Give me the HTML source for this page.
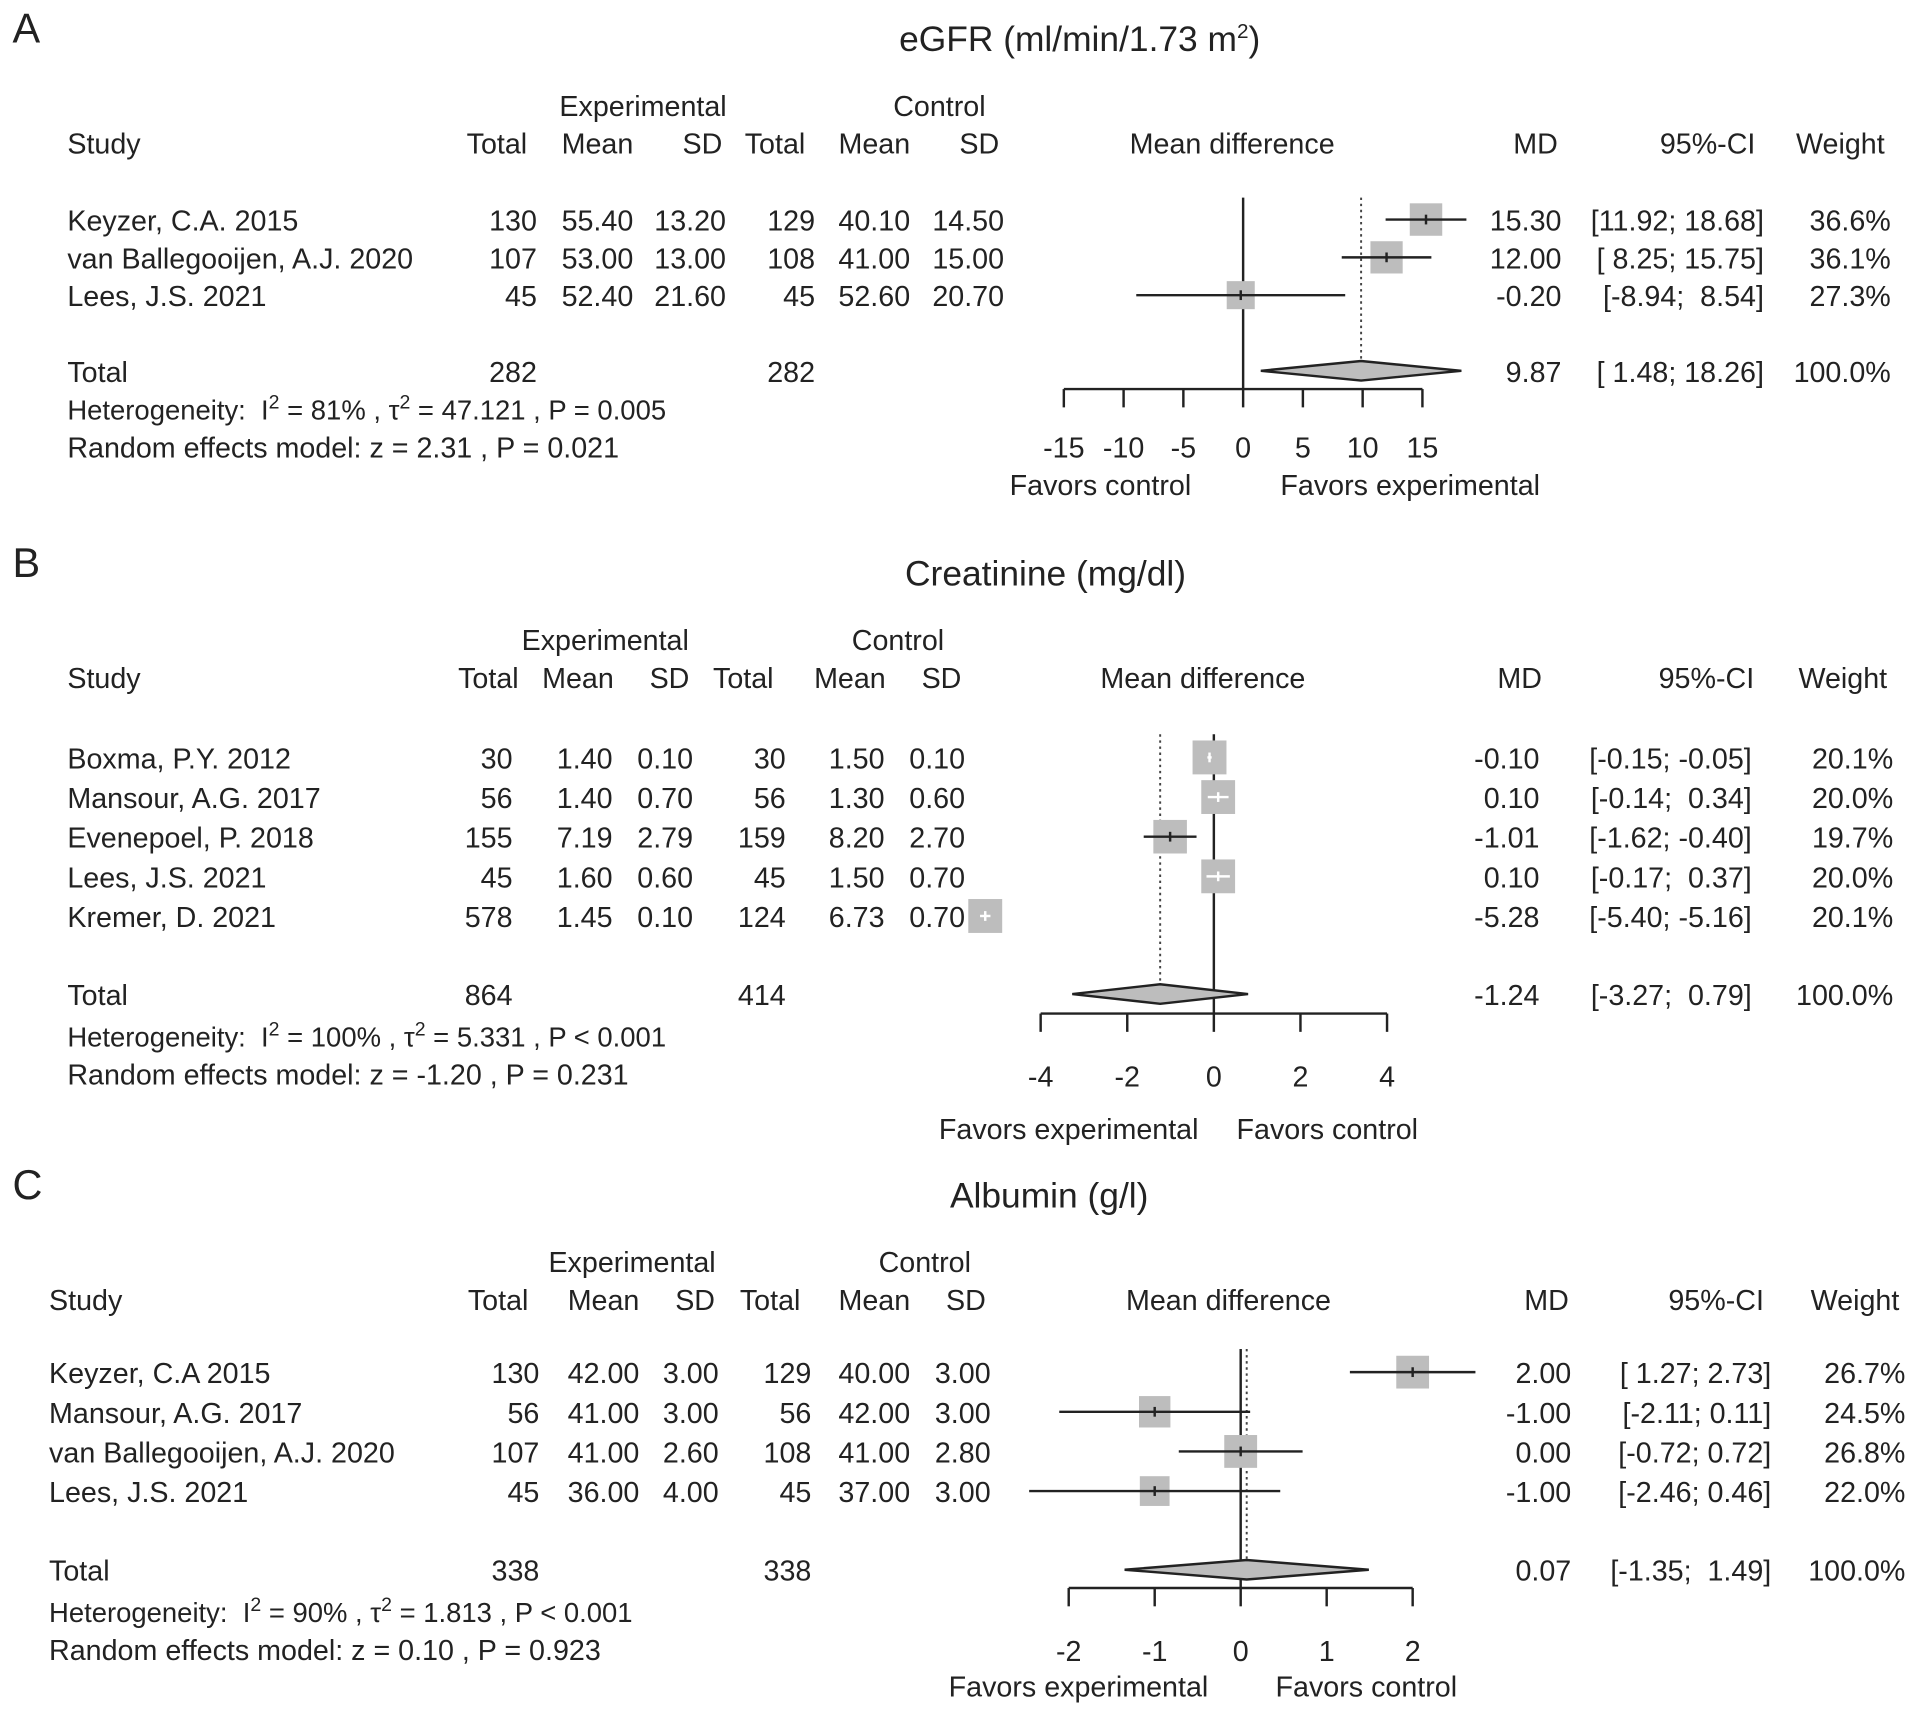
<!DOCTYPE html>
<html><head><meta charset="utf-8">
<style>
html,body{margin:0;padding:0;background:#fff;}
svg{display:block;}
text{font-family:"Liberation Sans",sans-serif;fill:#222;white-space:pre;}
</style></head>
<body>
<svg id="fig" width="1913" height="1710" viewBox="0 0 1568 1402" xmlns="http://www.w3.org/2000/svg"></svg>
<script>
// ---- Panel A data (eGFR) ----
const aStudies = ["Keyzer, C.A. 2015","van Ballegooijen, A.J. 2020","Lees, J.S. 2021"];
const aExpN = [130,107,45];
const aExpMean = ["55.40","53.00","52.40"];
const aExpSD = ["13.20","13.00","21.60"];
const aCtlN = [129,108,45];
const aCtlMean = ["40.10","41.00","52.60"];
const aCtlSD = ["14.50","15.00","20.70"];
const aMD = [15.30,12.00,-0.20];
const aLo = [11.92,8.25,-8.94];
const aHi = [18.68,15.75,8.54];
const aWeight = [36.6,36.1,27.3];
const aTotal = [9.87,1.48,18.26];
const aTicks = [-15,-10,-5,0,5,10,15];

// ---- Panel B data (Creatinine) ----
const bStudies = ["Boxma, P.Y. 2012","Mansour, A.G. 2017","Evenepoel, P. 2018","Lees, J.S. 2021","Kremer, D. 2021"];
const bExpN = [30,56,155,45,578];
const bExpMean = ["1.40","1.40","7.19","1.60","1.45"];
const bExpSD = ["0.10","0.70","2.79","0.60","0.10"];
const bCtlN = [30,56,159,45,124];
const bCtlMean = ["1.50","1.30","8.20","1.50","6.73"];
const bCtlSD = ["0.10","0.60","2.70","0.70","0.70"];
const bMD = [-0.10,0.10,-1.01,0.10,-5.28];
const bLo = [-0.15,-0.14,-1.62,-0.17,-5.40];
const bHi = [-0.05,0.34,-0.40,0.37,-5.16];
const bWeight = [20.1,20.0,19.7,20.0,20.1];
const bTotal = [-1.24,-3.27,0.79];
const bTicks = [-4,-2,0,2,4];

// ---- Panel C data (Albumin) ----
const cStudies = ["Keyzer, C.A 2015","Mansour, A.G. 2017","van Ballegooijen, A.J. 2020","Lees, J.S. 2021"];
const cExpN = [130,56,107,45];
const cExpMean = ["42.00","41.00","41.00","36.00"];
const cExpSD = ["3.00","3.00","2.60","4.00"];
const cCtlN = [129,56,108,45];
const cCtlMean = ["40.00","42.00","41.00","37.00"];
const cCtlSD = ["3.00","3.00","2.80","3.00"];
const cMD = [2.00,-1.00,0.00,-1.00];
const cLo = [1.27,-2.11,-0.72,-2.46];
const cHi = [2.73,0.11,0.72,0.46];
const cWeight = [26.7,24.5,26.8,22.0];
const cTotal = [0.07,-1.35,1.49];
const cTicks = [-2,-1,0,1,2];

const FS=23.5;
const NS="http://www.w3.org/2000/svg";
const svg=document.getElementById('fig');
function el(tag,attrs,parent){const e=document.createElementNS(NS,tag);for(const k in attrs)e.setAttribute(k,attrs[k]);(parent||svg).appendChild(e);return e;}
function txt(x,y,s,anchor,size,parent,name){const t=el('text',{x:x,y:y,'text-anchor':anchor||'start','font-size':size||FS},parent);t.textContent=s;


return t;}

function panel(o){
  const g=el('g',{});
  
  
  txt(10,o.top+35,o.letter,'start',34,g,'panel-letter');
  const title=txt(o.titleX,o.top+42,o.title,'middle',29,g,'panel-title');
  if(o.sup){const ts=el('tspan',{'font-size':17,dy:-11},title);ts.textContent='2';const t2=el('tspan',{dy:11},title);t2.textContent=')';}
  const c=o.cols;
  txt(o.expX,o.top+95,'Experimental','middle',FS,g,'experimental-header');
  txt(o.ctlX,o.top+95,'Control','middle',FS,g,'control-header');
  const hy=o.top+126;
  txt(o.studyX,hy,'Study','start',FS,g,'study-header');
  const hdr=['Total','Mean','SD','Total','Mean','SD'];
  for(let i=0;i<6;i++) txt(o.hcols[i],hy,hdr[i],'end',FS,g,'column-header');
  txt(o.mdHX,hy,'Mean difference','middle',FS,g,'mean-difference-header');
  txt(o.hMD,hy,'MD','end',FS,g,'md-header');
  txt(o.hCI,hy,'95%-CI','end',FS,g,'ci-header');
  txt(o.hW,hy,'Weight','end',FS,g,'weight-header');
  const x=v=>o.ax0+(v-o.ticks[0])/(o.ticks[o.ticks.length-1]-o.ticks[0])*(o.ax1-o.ax0);
  const fmt=(v,w)=>{let s=v.toFixed(2);while(s.length<w)s=' '+s;return s;};
  const wl=Math.max(...o.lo.map(v=>v.toFixed(2).length)), wh=Math.max(...o.hi.map(v=>v.toFixed(2).length));
  const totY=o.top+o.totalY;
  el('line',{x1:x(0),x2:x(0),y1:o.top+o.zeroTop,y2:o.top+o.axisY,stroke:'#222','stroke-width':2},g);
  el('line',{x1:x(o.total[0]),x2:x(o.total[0]),y1:o.top+o.zeroTop,y2:totY-8,stroke:'#444','stroke-width':1.6,'stroke-dasharray':'2 3'},g);
  for(let i=0;i<o.studies.length;i++){
    const cy=o.top+o.rowY0+i*o.rowH, by=cy+9;
    txt(o.studyX,by,o.studies[i],'start',FS,g,'study-name');
    const vals=[o.en[i],o.em[i],o.es[i],o.cn[i],o.cm[i],o.cs[i]];
    for(let j=0;j<6;j++) txt(c[j],by,String(vals[j]),'end',FS,g,'study-value');
    txt(o.cMD,by,o.md[i].toFixed(2),'end',FS,g,'md-value');
    txt(o.cCI,by,'['+fmt(o.lo[i],wl)+'; '+fmt(o.hi[i],wh)+']','end',FS,g,'ci-value');
    txt(o.cW,by,o.w[i].toFixed(1)+'%','end',FS,g,'weight-value');
    const s=o.sq*Math.sqrt(o.w[i]);
    const r=el('rect',{x:x(o.md[i])-s/2,y:cy-s/2,width:s,height:s,fill:'#bdbdbd'},g);
    
    
    const inside=(x(o.hi[i])-x(o.lo[i]))<s;
    const col=inside?'#fff':'#222';
    el('line',{x1:x(o.lo[i]),x2:x(o.hi[i]),y1:cy,y2:cy,stroke:col,'stroke-width':2},g);
    el('line',{x1:x(o.md[i]),x2:x(o.md[i]),y1:cy-4,y2:cy+4,stroke:col,'stroke-width':2},g);
  }
  txt(o.studyX,totY+9,'Total','start',FS,g,'total-label');
  txt(c[0],totY+9,String(o.totN[0]),'end',FS,g,'total-n-exp');
  txt(c[3],totY+9,String(o.totN[1]),'end',FS,g,'total-n-ctl');
  txt(o.cMD,totY+9,o.total[0].toFixed(2),'end',FS,g,'total-md');
  txt(o.cCI,totY+9,'['+fmt(o.total[1],5)+'; '+fmt(o.total[2],5)+']','end',FS,g,'total-ci');
  txt(o.cW,totY+9,'100.0%','end',FS,g,'total-weight');
  const d=el('polygon',{points:`${x(o.total[1])},${totY} ${x(o.total[0])},${totY-8} ${x(o.total[2])},${totY} ${x(o.total[0])},${totY+8}`,fill:'#bdbdbd',stroke:'#222','stroke-width':2},g);
  
  
  const ay=o.top+o.axisY;
  el('line',{x1:x(o.ticks[0]),x2:x(o.ticks[o.ticks.length-1]),y1:ay,y2:ay,stroke:'#222','stroke-width':2},g);
  o.ticks.forEach(t=>{el('line',{x1:x(t),x2:x(t),y1:ay,y2:ay+15,stroke:'#222','stroke-width':2},g);
    txt(x(t),o.top+o.tickLblY,String(t),'middle',FS,g,'x-tick-label');});
  txt(o.favL[0],o.top+o.favY,o.favL[1],'middle',FS,g,'favors-left-label');
  txt(o.favR[0],o.top+o.favY,o.favR[1],'middle',FS,g,'favors-right-label');
  const h=txt(o.studyX,o.top+o.hetY,'Heterogeneity:  I','start',22.5,g,'heterogeneity-text');
  let s1=el('tspan',{'font-size':16,dy:-9},h);s1.textContent='2';
  let s2=el('tspan',{dy:9},h);s2.textContent=' = '+o.het[0]+' , τ';
  let s3=el('tspan',{'font-size':16,dy:-9},h);s3.textContent='2';
  let s4=el('tspan',{dy:9},h);s4.textContent=' = '+o.het[1]+' , P '+o.het[2];
  txt(o.studyX,o.top+o.hetY+31,'Random effects model: z = '+o.re[0]+' , P = '+o.re[1],'start',FS,g,'random-effects-text');
}

panel({name:'panel-a-egfr',letter:'A',top:0,title:'eGFR (ml/min/1.73 m',sup:true,titleX:885,expX:527,ctlX:770,studyX:55,
 hcols:[432,519,592,660,746,819],cols:[440,519,595,668,746,823],mdHX:1010,hMD:1277,hCI:1439,hW:1545,cMD:1280,cCI:1446,cW:1550,
 studies:aStudies,en:aExpN,em:aExpMean,es:aExpSD,cn:aCtlN,cm:aCtlMean,cs:aCtlSD,md:aMD,lo:aLo,hi:aHi,w:aWeight,total:aTotal,totN:[282,282],
 ticks:aTicks,ax0:872,ax1:1166,rowY0:180,rowH:31,totalY:304,zeroTop:162,axisY:319,tickLblY:375,favY:406,sq:4.4,
 favL:[902,'Favors control'],favR:[1156,'Favors experimental'],het:['81%','47.121','= 0.005'],hetY:344,re:['2.31','0.021']});

panel({name:'panel-b-creatinine',letter:'B',top:438,title:'Creatinine (mg/dl)',titleX:857,expX:496,ctlX:736,studyX:55,
 hcols:[425,503,565,634,726,788],cols:[420,502,568,644,725,791],mdHX:986,hMD:1264,hCI:1438,hW:1547,cMD:1262,cCI:1436,cW:1552,
 studies:bStudies,en:bExpN,em:bExpMean,es:bExpSD,cn:bCtlN,cm:bCtlMean,cs:bCtlSD,md:bMD,lo:bLo,hi:bHi,w:bWeight,total:bTotal,totN:[864,414],
 ticks:bTicks,ax0:853,ax1:1137,rowY0:183,rowH:32.5,totalY:377,zeroTop:164,axisY:393,tickLblY:453,favY:496,sq:6.2,
 favL:[876,'Favors experimental'],favR:[1088,'Favors control'],het:['100%','5.331','< 0.001'],hetY:420,re:['-1.20','0.231']});

panel({name:'panel-c-albumin',letter:'C',top:948,title:'Albumin (g/l)',titleX:860,expX:518,ctlX:758,studyX:40,
 hcols:[433,524,586,656,746,808],cols:[442,524,589,665,746,812],mdHX:1007,hMD:1286,hCI:1446,hW:1557,cMD:1288,cCI:1452,cW:1562,
 studies:cStudies,en:cExpN,em:cExpMean,es:cExpSD,cn:cCtlN,cm:cCtlMean,cs:cCtlSD,md:cMD,lo:cLo,hi:cHi,w:cWeight,total:cTotal,totN:[338,338],
 ticks:cTicks,ax0:876,ax1:1158,rowY0:177,rowH:32.5,totalY:339,zeroTop:158,axisY:354,tickLblY:414,favY:443,sq:5.2,
 favL:[884,'Favors experimental'],favR:[1120,'Favors control'],het:['90%','1.813','< 0.001'],hetY:382,re:['0.10','0.923']});
</script>
</body></html>
